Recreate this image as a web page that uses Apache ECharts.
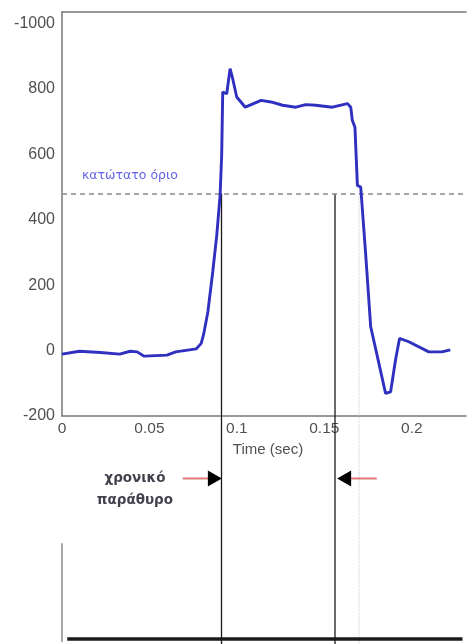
<!DOCTYPE html>
<html>
<head>
<meta charset="utf-8">
<script src="https://cdn.jsdelivr.net/npm/echarts@6/dist/echarts.min.js"></script>
<style>
html,body{margin:0;padding:0;background:#fff;}
#chart{width:469px;height:644px;}
</style>
</head>
<body>
<div id="chart"></div>
<script>
// ---- data ----
const timeSec = [0.000, 0.010, 0.022, 0.033, 0.039, 0.043, 0.047, 0.060, 0.065, 0.0767, 0.0796, 0.0810, 0.0834, 0.0862, 0.0885, 0.0904, 0.0913, 0.0919, 0.0942, 0.0961, 0.0976, 0.0999, 0.1048, 0.1138, 0.1195, 0.1261, 0.1337, 0.1394, 0.1451, 0.1546, 0.1632, 0.1651, 0.1660, 0.1675, 0.1689, 0.1708, 0.1736, 0.1765, 0.1812, 0.1850, 0.1879, 0.1907, 0.1930, 0.1983, 0.2097, 0.2173, 0.2220];
const force   = [-11, -2, -6, -11, -2, -4, -17, -14, -4, 5, 22, 50, 118, 241, 353, 475, 597, 790, 785, 862, 831, 775, 744, 765, 760, 750, 744, 752, 750, 744, 755, 744, 704, 683, 505, 500, 297, 73, -39, -131, -126, -29, 37, 27, -4, -4, 2];
const threshold = 480;
const windowStart = 0.0912;
const windowEnd = 0.1561;
const dottedMarkT = 0.1698;
const yTicks = [-200, 0, 200, 400, 600, 800, 1000];
const yTickLabels = ['-200', '0', '200', '400', '600', '800', '-1000'];
const xTicks = [0, 0.05, 0.1, 0.15, 0.2];
const xTickLabels = ['0', '0.05', '0.1', '0.15', '0.2'];
const thresholdLabel = 'κατώτατο όριο';
const windowLabel = 'χρονικό\nπαράθυρο';
const xName = 'Time (sec)';

// lower annotation panel levels (below the plot, in axis units)
const arrowLevel = -391;
const baseLevel = -882;
const panelBottom = -900;

const FONT = "'Liberation Sans', Arial, sans-serif";
const curve = timeSec.map((t, i) => [t, force[i]]);

function seg(a, b, color, width, type, z) {
  return {
    type: 'line', data: [a, b], clip: false, symbol: 'none', silent: true,
    lineStyle: { color: color, width: width, type: type || 'solid' }, z: z || 3,
    animation: false
  };
}

const chart = echarts.init(document.getElementById('chart'), null, { renderer: 'canvas' });
chart.setOption({
  backgroundColor: '#fff',
  animation: false,
  grid: { left: 62, right: 2, top: 12, bottom: 228, containLabel: false },
  xAxis: [{
    type: 'value', min: 0, max: 0.231, interval: 0.05, position: 'bottom',
    axisLine: { show: true, onZero: false, lineStyle: { color: '#777', width: 1.5 } },
    axisTick: { show: false }, splitLine: { show: false },
    axisLabel: {
      color: '#505050', fontSize: 15.5, fontFamily: FONT, margin: 5,
      formatter: v => { const i = xTicks.findIndex(t => Math.abs(t - v) < 1e-6); return i >= 0 ? xTickLabels[i] : ''; }
    },
    name: xName, nameLocation: 'middle', nameGap: 19,
    nameTextStyle: { color: '#505050', fontSize: 15, fontFamily: FONT, padding: [0, 0, 0, 8] }
  }, {
    type: 'value', min: 0, max: 0.231, position: 'top',
    axisLine: { show: true, onZero: false, lineStyle: { color: '#777', width: 1.5 } },
    axisTick: { show: false }, axisLabel: { show: false }, splitLine: { show: false }
  }],
  yAxis: {
    type: 'value', min: -200, max: 1035, interval: 200,
    axisLine: { show: true, onZero: false, lineStyle: { color: '#777', width: 1.5 } },
    axisTick: { show: false }, splitLine: { show: false },
    axisLabel: {
      color: '#505050', fontSize: 16, fontFamily: FONT, margin: 7,
      formatter: v => { const i = yTicks.indexOf(v); return i >= 0 ? yTickLabels[i] : ''; }
    }
  },
  series: [
    {
      type: 'line', data: curve, symbol: 'none', z: 5,
      lineStyle: { color: '#2f2fc0', width: 2.9 },
      markLine: {
        silent: true, symbol: 'none', label: { show: false },
        lineStyle: { color: '#8a8a8a', type: [5, 4], width: 1.6 },
        data: [{ yAxis: threshold }]
      }
    },
    seg([windowStart, threshold], [windowStart, panelBottom], '#1a1a1a', 1.3),
    seg([windowEnd, threshold], [windowEnd, panelBottom], '#1a1a1a', 1.3),
    seg([dottedMarkT, threshold], [dottedMarkT, panelBottom], '#d0d0d0', 1.2, 'dotted', 1),
    seg([0.003, baseLevel], [0.229, baseLevel], '#1a1a1a', 3.5),
    seg([0, -589], [0, -891], '#aaa', 2),
    seg([0.069, arrowLevel], [0.0835, arrowLevel], '#e07a7a', 2),
    seg([0.1645, arrowLevel], [0.180, arrowLevel], '#e07a7a', 2),
    {
      type: 'scatter', clip: false, silent: true, z: 6,
      symbol: 'triangle', symbolSize: [16, 14],
      itemStyle: { color: '#000', opacity: 1 },
      data: [
        { value: [0.0874, arrowLevel], symbolRotate: -90 },
        { value: [0.1613, arrowLevel], symbolRotate: 90 }
      ]
    },
    {
      type: 'scatter', clip: false, silent: true, z: 7, symbolSize: 0,
      data: [
        {
          value: [0.0114, 533],
          label: { show: true, position: 'right', distance: 0, formatter: thresholdLabel,
                   color: '#3a3ae0', fontSize: 12.5, fontFamily: "'DejaVu Sans', sans-serif" }
        },
        {
          value: [0.0417, -424],
          label: { show: true, position: 'inside', formatter: windowLabel, align: 'center',
                   color: '#101020', fontSize: 13.5, fontWeight: 'bold', lineHeight: 22,
                   fontFamily: "'DejaVu Sans', sans-serif" }
        }
      ]
    }
  ]
});
</script>
</body>
</html>
